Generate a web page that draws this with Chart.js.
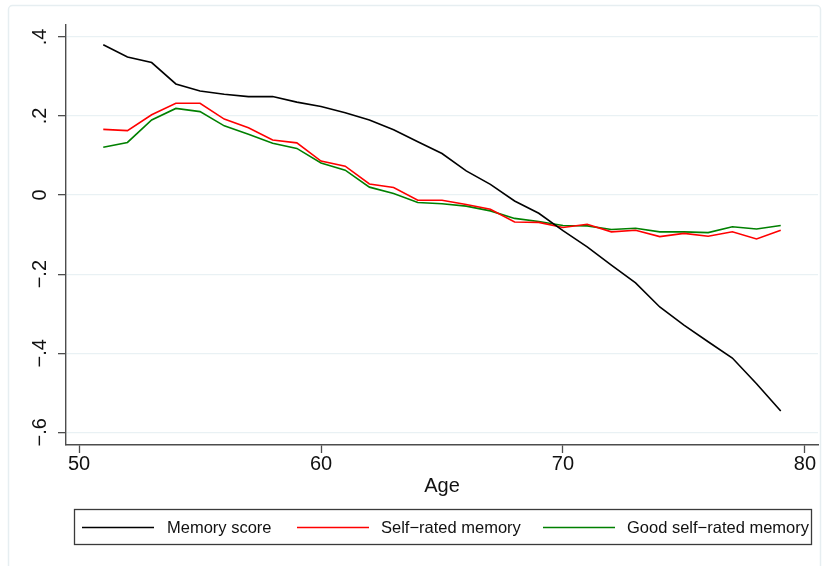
<!DOCTYPE html>
<html>
<head>
<meta charset="utf-8">
<script src="https://cdn.jsdelivr.net/npm/chart.js@4"></script>
<style>
html,body{margin:0;padding:0;background:#fff;}
#wrap{position:relative;width:830px;height:566px;}
</style>
</head>
<body>
<div id="wrap"><canvas id="c" width="830" height="566"></canvas></div>
<script>
// ---- data ----
const ages = [51,52,53,54,55,56,57,58,59,60,61,62,63,64,65,66,67,68,69,70,71,72,73,74,75,76,77,78,79];
const memoryScore = [0.380,0.349,0.335,0.281,0.263,0.255,0.249,0.249,0.235,0.224,0.208,0.190,0.165,0.135,0.105,0.061,0.027,-0.015,-0.046,-0.090,-0.131,-0.177,-0.222,-0.283,-0.329,-0.371,-0.412,-0.477,-0.546];
const selfRated = [0.166,0.163,0.203,0.232,0.232,0.192,0.170,0.139,0.132,0.086,0.073,0.028,0.019,-0.013,-0.013,-0.024,-0.036,-0.068,-0.069,-0.082,-0.074,-0.093,-0.089,-0.105,-0.097,-0.104,-0.093,-0.111,-0.089];
const goodSelfRated = [0.121,0.133,0.190,0.219,0.211,0.175,0.154,0.131,0.118,0.081,0.063,0.020,0.004,-0.019,-0.022,-0.028,-0.040,-0.059,-0.067,-0.077,-0.078,-0.087,-0.084,-0.093,-0.093,-0.095,-0.080,-0.086,-0.077];
const seriesNames = ['Memory score','Self\u2212rated memory','Good self\u2212rated memory'];
const xTickValues = [50,60,70,80];
const yTickValues = [-0.6,-0.4,-0.2,0,0.2,0.4];
const yTickLabels = ['\u2212.6','\u2212.4','\u2212.2','0','.2','.4'];
const xTitle = 'Age';

const FONT = "'Liberation Sans', Arial, Helvetica, sans-serif";
const toXY = vals => ages.map((a,i)=>({x:a,y:vals[i]}));

const framePlugin = {
  id:'frame',
  beforeDraw(chart){
    const ctx = chart.ctx;
    ctx.save();
    ctx.fillStyle='#fff';
    ctx.fillRect(0,0,chart.width,chart.height);
    ctx.strokeStyle='#e6eef1';
    ctx.lineWidth=1.5;
    ctx.beginPath();
    if (ctx.roundRect) ctx.roundRect(8.5,5.5,812,620,4); else ctx.rect(8.5,5.5,812,620);
    ctx.stroke();
    ctx.restore();
  }
};

const legendPlugin = {
  id:'boxLegend',
  afterDraw(chart){
    const ctx = chart.ctx;
    ctx.save();
    ctx.strokeStyle='#3a3a3a';
    ctx.lineWidth=1.3;
    ctx.strokeRect(74.5,509.5,737,35);
    const yc = 527.5;
    const lineStarts = [82,297,543];
    const textStarts = [167,381,627];
    ctx.font = "16.5px " + FONT;
    ctx.textBaseline='middle';
    ctx.textAlign='left';
    chart.data.datasets.forEach((ds,i)=>{
      ctx.strokeStyle = ds.borderColor;
      ctx.lineWidth = 1.6;
      ctx.beginPath();
      ctx.moveTo(lineStarts[i], yc);
      ctx.lineTo(lineStarts[i]+72, yc);
      ctx.stroke();
      ctx.fillStyle='#111';
      ctx.fillText(ds.label, textStarts[i], yc+0.5);
    });
    ctx.restore();
  }
};

new Chart(document.getElementById('c'), {
  type:'line',
  data:{
    datasets:[
      {label:seriesNames[0], data:toXY(memoryScore), borderColor:'#000000', backgroundColor:'#000000'},
      {label:seriesNames[1], data:toXY(selfRated), borderColor:'#ff0000', backgroundColor:'#ff0000'},
      {label:seriesNames[2], data:toXY(goodSelfRated), borderColor:'#008000', backgroundColor:'#008000'}
    ]
  },
  options:{
    responsive:false,
    animation:false,
    devicePixelRatio:1,
    layout:{padding:{left:0,top:25,right:12,bottom:68}},
    elements:{
      line:{borderWidth:1.6,tension:0,fill:false},
      point:{radius:0,hoverRadius:0}
    },
    plugins:{legend:{display:false},tooltip:{enabled:false}},
    scales:{
      x:{
        type:'linear',
        min:49.46,max:80.54,
        afterBuildTicks(s){ s.ticks = xTickValues.map(v=>({value:v})); },
        afterFit(s){ s.height = 53; },
        ticks:{
          color:'#111',
          font:{family:FONT,size:20,lineHeight:1.1},
          padding:0,
          maxRotation:0,minRotation:0,
          callback:v=>String(v)
        },
        grid:{drawOnChartArea:false,drawTicks:true,tickLength:8,tickColor:'#4d4d4d',tickWidth:1.3},
        border:{display:true,color:'#4d4d4d',width:1.4},
        title:{display:true,text:xTitle,color:'#111',font:{family:FONT,size:20,lineHeight:1.2},padding:0}
      },
      y:{
        type:'linear',
        min:-0.632,max:0.43,
        afterBuildTicks(s){ s.ticks = yTickValues.map(v=>({value:v})); },
        afterFit(s){ s.width = 66; },
        ticks:{
          color:'#111',
          font:{family:FONT,size:20,lineHeight:1.2},
          padding:3,
          crossAlign:'center',
          minRotation:90,maxRotation:90,
          callback:(v)=>{ const i = yTickValues.findIndex(t=>Math.abs(t-v)<1e-9); return i>=0?yTickLabels[i]:''; }
        },
        grid:{color:'#e9f1f4',lineWidth:1.3,drawTicks:true,tickLength:8,tickColor:'#4d4d4d',tickWidth:1.3},
        border:{display:true,color:'#4d4d4d',width:1.4}
      }
    }
  },
  plugins:[framePlugin,legendPlugin]
});
</script>
</body>
</html>
